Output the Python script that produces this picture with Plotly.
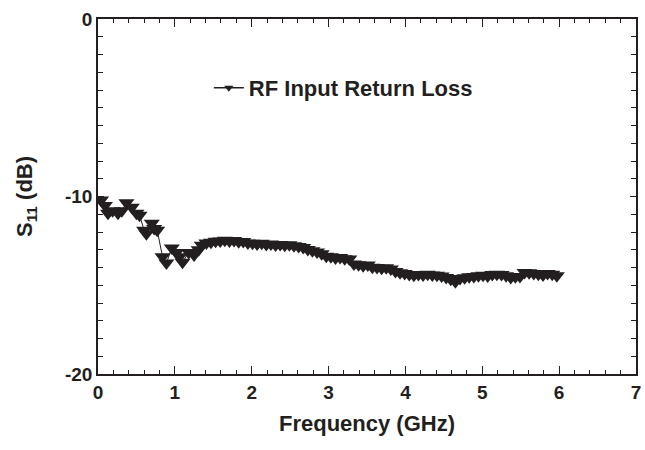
import plotly.graph_objects as go

# Frequency (GHz) and S11 (dB)
freq = [0.04, 0.09, 0.13, 0.19, 0.26, 0.31, 0.37, 0.44, 0.50, 0.54,
        0.60, 0.63, 0.70, 0.73, 0.77, 0.84, 0.89, 0.96, 1.02, 1.06,
        1.10, 1.18, 1.25, 1.31, 1.35,
        1.41, 1.47, 1.53, 1.59, 1.65, 1.71, 1.77, 1.83, 1.89, 1.95,
        2.01, 2.07, 2.13, 2.19, 2.25, 2.31, 2.37, 2.43, 2.49, 2.55,
        2.61, 2.67, 2.73, 2.79, 2.85, 2.91, 2.97, 3.03, 3.09, 3.15,
        3.21, 3.27, 3.33, 3.39, 3.45, 3.51, 3.57, 3.63, 3.69, 3.75,
        3.81, 3.87, 3.93, 3.99, 4.05, 4.11, 4.17, 4.23, 4.29, 4.35,
        4.41, 4.47, 4.53, 4.59, 4.65, 4.71, 4.77, 4.83, 4.89, 4.95,
        5.01, 5.07, 5.13, 5.19, 5.25, 5.31, 5.37, 5.43, 5.49, 5.55,
        5.61, 5.67, 5.73, 5.79, 5.85, 5.91, 5.97]
s11 = [-10.20, -10.50, -10.95, -10.80, -10.95, -10.80, -10.35, -10.60, -10.95, -11.05,
       -11.90, -12.10, -11.50, -11.80, -11.90, -13.40, -13.75, -12.90, -13.15, -13.40,
       -13.70, -13.15, -13.30, -13.00, -12.75,
       -12.62, -12.58, -12.52, -12.50, -12.46, -12.50, -12.48, -12.55, -12.54, -12.62,
       -12.64, -12.68, -12.64, -12.70, -12.68, -12.73, -12.70, -12.74, -12.72, -12.78,
       -12.82, -12.88, -12.98, -13.06, -13.12, -13.22, -13.36, -13.40, -13.46, -13.44,
       -13.50, -13.52, -13.80, -13.84, -13.90, -13.86, -13.98, -14.00, -14.04, -14.02,
       -14.08, -14.22, -14.30, -14.34, -14.40, -14.44, -14.40, -14.42, -14.38, -14.42,
       -14.44, -14.48, -14.56, -14.66, -14.80, -14.62, -14.58, -14.52, -14.50, -14.46,
       -14.44, -14.48, -14.40, -14.38, -14.40, -14.46, -14.56, -14.52, -14.50, -14.28,
       -14.30, -14.34, -14.38, -14.42, -14.34, -14.38, -14.46]

x_tickvals = [0, 1, 2, 3, 4, 5, 6, 7]
x_ticktext = ["0", "1", "2", "3", "4", "5", "6", "7"]
y_tickvals = [0, -10, -20]
y_ticktext = ["0", "-10", "-20"]

series_name = "RF Input Return Loss"
x_title = "Frequency (GHz)"
y_title = "S<sub>11</sub> (dB)"

ink = "#231f20"
font_family = "Liberation Sans, Arial, sans-serif"

fig = go.Figure()
fig.add_trace(go.Scatter(
    x=freq, y=s11, mode="lines+markers",
    line=dict(color=ink, width=1),
    marker=dict(symbol="triangle-down", size=14, color=ink),
    showlegend=False,
))
# legend entry with a small marker, as in the reference
fig.add_trace(go.Scatter(
    x=[None], y=[None], mode="lines+markers", name=series_name,
    line=dict(color=ink, width=1.5),
    marker=dict(symbol="triangle-down", size=8, color=ink),
    showlegend=True,
))

axis_common = dict(
    showline=True, linecolor=ink, linewidth=1.5, mirror="ticks",
    ticks="inside", tickcolor=ink, tickwidth=1,
    showgrid=False, zeroline=False,
    tickfont=dict(family=font_family, size=19, color=ink, weight="bold"),
    title_font=dict(family=font_family, size=22, color=ink, weight="bold"),
)

fig.update_xaxes(
    range=[0, 7], tickmode="array", tickvals=x_tickvals, ticktext=x_ticktext,
    ticklen=8,
    minor=dict(dtick=0.2, ticks="inside", ticklen=4, tickcolor=ink, tickwidth=1),
    title=dict(text=x_title, standoff=14),
    **axis_common,
)
fig.update_yaxes(
    range=[-20, 0], tickmode="array", tickvals=y_tickvals, ticktext=y_ticktext,
    ticklen=6,
    minor=dict(dtick=1, ticks="inside", ticklen=5, tickcolor=ink, tickwidth=1),
    title=dict(text=y_title, standoff=26),
    **axis_common,
)

fig.update_layout(
    width=645, height=450,
    margin=dict(l=98, r=4, t=19, b=76),
    paper_bgcolor="white", plot_bgcolor="white",
    font=dict(family=font_family, color=ink),
    legend=dict(
        x=0.206, y=0.806, xanchor="left", yanchor="middle",
        bgcolor="rgba(0,0,0,0)",
        font=dict(family=font_family, size=22, color=ink, weight="bold"),
    ),
)

fig.write_html("out.html")
